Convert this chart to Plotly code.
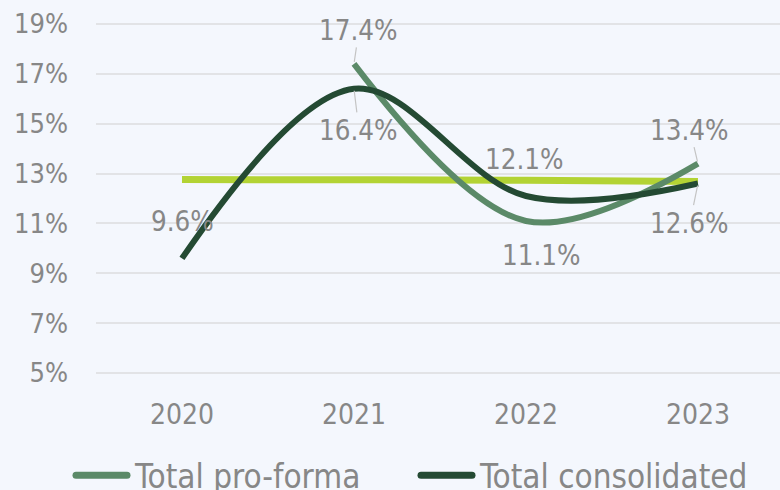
import plotly.graph_objects as go

years = ["2020", "2021", "2022", "2023"]
pro_forma = [None, 17.4, 11.1, 13.4]
consolidated = [9.6, 16.4, 12.1, 12.6]
average = [12.76, 12.75, 12.73, 12.68]
y_ticks = [5, 7, 9, 11, 13, 15, 17, 19]
y_tick_labels = [f"{v}%" for v in y_ticks]

xpos = list(range(len(years)))

FONT = "DejaVu Sans Condensed"
GRAY = "#878787"
BG = "#f4f7fd"

fig = go.Figure()
fig.add_trace(go.Scatter(x=xpos, y=average, mode="lines", showlegend=False,
                         line=dict(color="#b3d334", width=7, shape="spline")))
fig.add_trace(go.Scatter(x=xpos, y=pro_forma, mode="lines", name="Total pro-forma",
                         legend="legend",
                         line=dict(color="#5b8a68", width=6, shape="spline", smoothing=1)))
fig.add_trace(go.Scatter(x=xpos, y=consolidated, mode="lines", name="Total consolidated",
                         legend="legend2",
                         line=dict(color="#244a33", width=6, shape="spline", smoothing=1)))

# data labels: (index, value, pixel offset x, pixel offset y, leader line)
labels = [
    (0, consolidated[0], 1, -37, False),
    (1, pro_forma[1], 5, -34, True),
    (1, consolidated[1], 5, 41, True),
    (2, consolidated[2], -1, -37, False),
    (2, pro_forma[2], 16, 34, False),
    (3, pro_forma[3], -8, -34, True),
    (3, consolidated[3], -8, 39, True),
]
for i, v, ax, ay, arrow in labels:
    fig.add_annotation(x=i, y=v, xref="x", yref="y", text=f"{v:.1f}%",
                       showarrow=True, ax=ax, ay=ay,
                       arrowhead=0, arrowwidth=1.2,
                       arrowcolor="#c4c4c4" if arrow else "rgba(0,0,0,0)",
                       standoff=2,
                       font=dict(family=FONT, size=27.5, color=GRAY))

legend_common = dict(orientation="h", xref="container", yref="container",
                     y=0.03, xanchor="left", yanchor="middle",
                     font=dict(family=FONT, size=33, color=GRAY),
                     itemwidth=58, bgcolor="rgba(0,0,0,0)", tracegroupgap=0)

fig.update_layout(
    width=780, height=490,
    margin=dict(l=96, r=0, t=19, b=107, autoexpand=False),
    paper_bgcolor=BG, plot_bgcolor=BG,
    font=dict(family=FONT, size=27, color=GRAY),
    showlegend=True,
    legend=dict(x=67 / 780, **legend_common),
    legend2=dict(x=412 / 780, **legend_common),
    xaxis=dict(range=[-0.5, 3.477], tickvals=xpos, ticktext=years,
               showgrid=False, zeroline=False, automargin=False,
               showline=False, ticks="", ticklabelstandoff=12,
               tickfont=dict(family=FONT, size=28, color=GRAY)),
    yaxis=dict(range=[4.6, 19.2], tickvals=y_ticks, ticktext=y_tick_labels,
               showgrid=True, gridcolor="#e2e3e6", gridwidth=1.5, zeroline=False,
               showline=False, ticks="", ticklabelstandoff=27, automargin=False,
               tickfont=dict(family=FONT, size=27, color=GRAY)),
)

post = """
document.body.style.margin='0';
document.body.style.background='%s';
var gd = document.getElementById('{plot_id}');
function fixLegend(){
  document.querySelectorAll('g.legendlines path').forEach(function(p){
    p.setAttribute('d','M9,0h51');
    p.style.strokeWidth='7px';
    p.style.strokeLinecap='round';
  });
}
fixLegend();
if (gd && gd.on) { gd.on('plotly_afterplot', fixLegend); }
setTimeout(fixLegend, 50);
setTimeout(fixLegend, 300);
""" % BG

fig.write_html("out.html", post_script=post, config={"displayModeBar": False})
